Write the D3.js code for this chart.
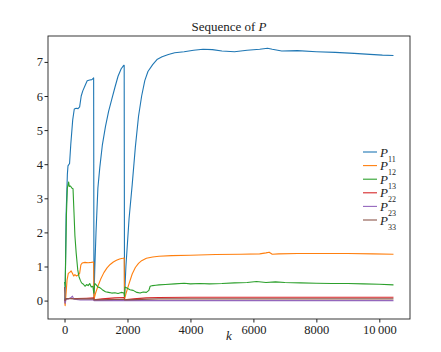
<!DOCTYPE html>
<html>
<head>
<meta charset="utf-8">
<script src="https://cdn.jsdelivr.net/npm/d3@7/dist/d3.min.js"></script>
<style>
  body { margin: 0; background: #fff; }
  svg text { font-family: "Liberation Serif", "Times New Roman", "DejaVu Serif", serif !important; }
</style>
</head>
<body>
<div id="chart"></div>
<script>
"use strict"

// series: [k, value]
let P11 = [[0,-0.05],[20,0.2],[50,2.5],[90,3.7],[110,3.95],[160,4.02],[200,4.6],[260,5.3],[310,5.62],[370,5.64],[430,5.63],[480,5.68],[530,6.0],[580,6.15],[650,6.3],[720,6.45],[800,6.47],[870,6.48],[925,6.53],[935,0.05],[960,0.9],[1000,2.0],[1060,3.3],[1120,3.9],[1200,4.55],[1300,5.1],[1400,5.55],[1500,5.9],[1600,6.25],[1700,6.58],[1800,6.8],[1880,6.9],[1895,6.9],[1905,0.08],[1950,1.0],[2050,2.4],[2150,3.4],[2250,4.5],[2350,5.4],[2450,6.0],[2550,6.45],[2650,6.72],[2800,6.92],[2950,7.08],[3100,7.15],[3300,7.22],[3500,7.27],[3800,7.3],[4100,7.34],[4400,7.37],[4700,7.36],[5000,7.32],[5400,7.3],[5800,7.34],[6200,7.37],[6450,7.4],[6600,7.37],[6900,7.32],[7400,7.33],[8000,7.3],[8600,7.28],[9200,7.25],[9700,7.22],[10100,7.2],[10450,7.19]];
let P12 = [[0,0.0],[20,-0.15],[40,0.1],[80,0.6],[120,0.8],[160,0.82],[210,0.87],[250,0.8],[290,0.72],[330,0.76],[380,0.72],[430,0.75],[480,0.8],[520,1.05],[560,1.1],[650,1.12],[750,1.11],[850,1.12],[925,1.13],[935,0.03],[980,0.2],[1060,0.42],[1150,0.63],[1250,0.82],[1350,0.96],[1450,1.06],[1550,1.13],[1650,1.18],[1750,1.22],[1850,1.24],[1895,1.25],[1905,0.03],[1950,0.2],[2050,0.5],[2150,0.78],[2250,0.97],[2350,1.09],[2450,1.17],[2600,1.24],[2800,1.28],[3000,1.3],[3400,1.32],[4000,1.33],[4800,1.35],[5600,1.36],[6200,1.37],[6400,1.4],[6500,1.42],[6600,1.36],[6800,1.37],[7400,1.38],[8200,1.38],[9000,1.38],[9800,1.37],[10450,1.36]];
let P13 = [[0,0.55],[20,0.4],[40,1.4],[60,2.5],[90,3.3],[130,3.48],[150,3.35],[190,3.36],[230,3.3],[270,3.28],[300,2.6],[330,1.9],[370,1.4],[420,0.9],[460,0.7],[500,0.6],[540,0.52],[600,0.48],[650,0.42],[700,0.47],[750,0.44],[800,0.5],[850,0.4],[900,0.42],[930,0.22],[960,0.5],[1000,0.47],[1060,0.4],[1120,0.38],[1200,0.32],[1300,0.26],[1400,0.24],[1500,0.22],[1600,0.23],[1700,0.21],[1800,0.24],[1890,0.22],[1905,0.12],[1920,0.4],[1980,0.37],[2080,0.32],[2180,0.3],[2300,0.24],[2400,0.22],[2500,0.25],[2600,0.24],[2680,0.3],[2720,0.42],[2800,0.44],[2900,0.45],[3000,0.46],[3200,0.47],[3500,0.49],[3800,0.51],[4000,0.49],[4300,0.5],[4600,0.49],[5000,0.5],[5400,0.52],[5800,0.53],[6100,0.56],[6400,0.53],[6700,0.55],[7000,0.53],[7500,0.52],[8000,0.51],[8500,0.5],[9000,0.5],[9500,0.49],[10000,0.48],[10450,0.46]];
let P22 = [[0,0.0],[40,0.05],[150,0.06],[400,0.06],[700,0.07],[930,0.08],[935,0.02],[1200,0.05],[1600,0.08],[1895,0.09],[1905,0.02],[2200,0.05],[2600,0.08],[3000,0.09],[4000,0.1],[6000,0.1],[8000,0.1],[10450,0.1]];
let P23 = [[0,0.0],[20,-0.08],[50,0.04],[120,0.05],[200,0.08],[250,0.13],[300,0.04],[500,0.02],[930,0.02],[935,0.0],[1900,0.0],[3000,0.0],[10450,0.0]];
let P33 = [[0,0.4],[20,0.0],[60,0.06],[300,0.05],[930,0.05],[935,0.02],[1900,0.04],[1905,0.02],[3000,0.05],[10450,0.05]];

let seriesNames = ["11", "12", "13", "22", "23", "33"];
let seriesData = [P11, P12, P13, P22, P23, P33];
let colors = ["#1f77b4", "#ff7f0e", "#2ca02c", "#d62728", "#9467bd", "#8c564b"];
let xTicks = [0, 2000, 4000, 6000, 8000, 10000];
let yTicks = [0, 1, 2, 3, 4, 5, 6, 7];

let width = 441, height = 352;
let margin = {left: 48, right: 31, top: 36, bottom: 33};

let svg = d3.select("#chart").append("svg")
    .attr("width", width)
    .attr("height", height);

let x = d3.scaleLinear()
    .domain([-525, 10975])
    .range([margin.left, width - margin.right]);

let y = d3.scaleLinear()
    .domain([-0.54, 7.76])
    .range([height - margin.bottom, margin.top]);

let line = d3.line()
    .x(d => x(d[0]))
    .y(d => y(d[1]));

// lines
for(let i = 0; i < seriesData.length; i++){
    svg.append("path")
        .datum(seriesData[i])
        .attr("fill", "none")
        .attr("stroke", colors[i])
        .attr("stroke-width", 1.1)
        .attr("stroke-linejoin", "round")
        .attr("d", line);
}

// axes
let xAxis = d3.axisBottom(x)
    .tickValues(xTicks)
    .tickSize(3.5)
    .tickFormat(d => d >= 10000 ? d3.format(",")(d).replace(",", "\u2009") : d);

let yAxis = d3.axisLeft(y)
    .tickValues(yTicks)
    .tickSize(3.5);

let gx = svg.append("g")
    .attr("transform", "translate(0," + (height - margin.bottom) + ")")
    .call(xAxis);
gx.select(".domain").remove();
gx.selectAll("text").style("font-size", "12.5px").attr("fill", "#222").attr("dy", "0.8em").attr("y", 5);

let gy = svg.append("g")
    .attr("transform", "translate(" + margin.left + ",0)")
    .call(yAxis);
gy.select(".domain").remove();
gy.selectAll("text").style("font-size", "12.5px").attr("fill", "#222").attr("x", -5);

svg.selectAll(".tick line").attr("stroke", "#222");

// frame
svg.append("rect")
    .attr("x", margin.left)
    .attr("y", margin.top)
    .attr("width", width - margin.left - margin.right)
    .attr("height", height - margin.top - margin.bottom)
    .attr("fill", "none")
    .attr("stroke", "#222")
    .attr("stroke-width", 0.9);

// title
let title = svg.append("text")
    .attr("x", (margin.left + width - margin.right) / 2)
    .attr("y", 31)
    .attr("text-anchor", "middle")
    .attr("fill", "#222")
    .style("font-size", "13px");
title.append("tspan").text("Sequence of ");
title.append("tspan").style("font-style", "italic").text("P");

// x label
svg.append("text")
    .attr("x", (margin.left + width - margin.right) / 2)
    .attr("y", 340)
    .attr("text-anchor", "middle")
    .attr("fill", "#222")
    .style("font-size", "13px")
    .style("font-style", "italic")
    .text("k");

// legend
let legend = svg.append("g").attr("transform", "translate(363,152)");
for(let i = 0; i < seriesNames.length; i++){
    let g = legend.append("g").attr("transform", "translate(0," + (i * 13.6) + ")");
    g.append("line")
        .attr("x1", 0).attr("x2", 14)
        .attr("y1", 0).attr("y2", 0)
        .attr("stroke", colors[i])
        .attr("stroke-width", 1.1);
    let t = g.append("text")
        .attr("x", 17)
        .attr("y", 4.5)
        .attr("fill", "#222")
        .style("font-size", "13px");
    t.append("tspan").style("font-style", "italic").text("P");
    t.append("tspan").attr("dy", 5).style("font-size", "8px").text(seriesNames[i]);
}
</script>
</body>
</html>
